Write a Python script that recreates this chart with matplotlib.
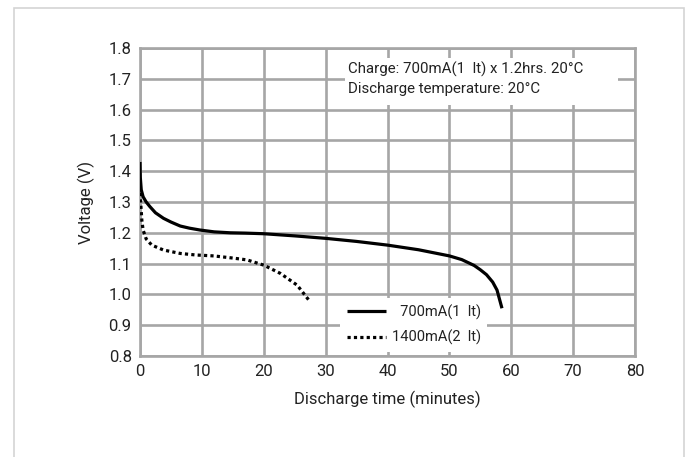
import matplotlib
matplotlib.use("Agg")
import matplotlib.pyplot as plt
from matplotlib.patches import Rectangle
import numpy as np

############### Data ###############
t_700 = [0, 0.05, 0.2, 0.5, 1.0, 1.6, 2.5, 3.8, 5.0, 6.5, 8.0, 9.7, 12.0, 14.6,
         17.0, 20.0, 25.0, 30.0, 35.0, 40.0, 45.0, 50.0, 52.0, 54.0, 55.0,
         56.0, 57.0, 57.7, 58.5]
v_700 = [1.43, 1.38, 1.34, 1.317, 1.30, 1.285, 1.265, 1.247, 1.235, 1.222,
         1.215, 1.209, 1.203, 1.200, 1.199, 1.197, 1.190, 1.182, 1.172, 1.160,
         1.145, 1.125, 1.113, 1.094, 1.080, 1.064, 1.040, 1.014, 0.955]

t_1400 = [0, 0.1, 0.3, 0.5, 1.0, 1.9, 3.8, 6.5, 9.0, 11.9, 15.0, 17.3, 20.0,
          22.7, 25.4, 27.5]
v_1400 = [1.35, 1.30, 1.24, 1.209, 1.18, 1.16, 1.144, 1.133, 1.128, 1.125,
          1.118, 1.112, 1.095, 1.068, 1.03, 0.976]

x_ticks = np.arange(0, 81, 10)
y_ticks = np.round(np.arange(0.8, 1.81, 0.1), 1)

# figure space keeps the two legend labels right aligned
labels = ["\u2007700mA(1  lt)", "1400mA(2  lt)"]
note = "Charge: 700mA(1  lt) x 1.2hrs. 20°C\nDischarge temperature: 20°C"

############### Style ###############
plt.rcParams['font.family'] = ['Roboto', 'DejaVu Sans']
grid_col = '#a6a6a6'
text_col = '#222222'

fig = plt.figure(figsize=(6.91, 4.57), dpi=100)
fig.patches.append(Rectangle((14 / 691, -0.1), 670 / 691, 1.1 - 8 / 457,
                             transform=fig.transFigure, fill=False,
                             edgecolor='#d4d4d4', linewidth=1.2))
ax = fig.add_axes([140 / 691, 1 - 356 / 457, 495 / 691, 308 / 457])

ax.plot(t_700, v_700, color='black', lw=2.3, solid_capstyle='butt', label=labels[0], zorder=3)
ax.plot(t_1400, v_1400, color='black', lw=2.3, linestyle=(0, (1, 1)), label=labels[1], zorder=3)

ax.set_xlim(0, 80)
ax.set_ylim(0.8, 1.8)
ax.set_xticks(x_ticks)
ax.set_yticks(y_ticks)
ax.set_yticklabels([f"{v:.1f}" for v in y_ticks])
ax.grid(True, color=grid_col, lw=1.9, zorder=0)
ax.set_axisbelow(True)
for s in ax.spines.values():
    s.set_color(grid_col)
    s.set_linewidth(1.9)
ax.tick_params(length=0, pad=6, labelsize=12, colors=text_col)

ax.set_xlabel("Discharge time (minutes)", fontsize=12, color=text_col, labelpad=8)
ax.set_ylabel("Voltage (V)", fontsize=12, color=text_col, labelpad=10)

# white box behind the conditions note
ax.add_patch(Rectangle((0.414, 0.815), 0.552, 0.153, transform=ax.transAxes,
                       facecolor='white', edgecolor='none', zorder=2.5))
ax.text(33.6, 1.754, note, fontsize=10.8, color=text_col, va='top', ha='left',
        linespacing=1.45, zorder=4)

leg = ax.legend(loc='lower left', bbox_to_anchor=(0.404, 0.013), fontsize=10.5,
                frameon=True, fancybox=False, framealpha=1, edgecolor='none',
                facecolor='white', handlelength=2.7, handletextpad=0.4,
                borderpad=0.45, labelspacing=0.7, borderaxespad=0.0)
for txt in leg.get_texts():
    txt.set_color(text_col)
leg.set_zorder(4)

fig.savefig("out.png", dpi=100)
